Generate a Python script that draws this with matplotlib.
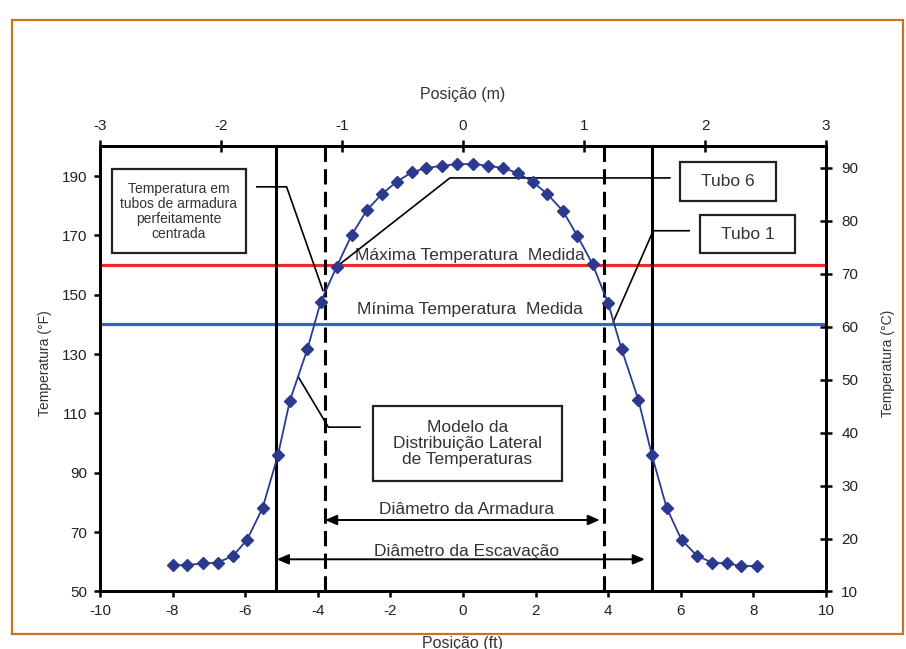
import matplotlib.pyplot as plt
from matplotlib.patches import Rectangle

plt.rcParams['font.family'] = ['Liberation Sans', 'DejaVu Sans']
plt.rcParams['axes.unicode_minus'] = False

# === DATA ===
pos_ft = [-7.99, -7.61, -7.16, -6.76, -6.33, -5.95, -5.52, -5.10, -4.77, -4.29,
          -3.92, -3.48, -3.07, -2.65, -2.24, -1.83, -1.41, -1.02, -0.59, -0.17,
          0.27, 0.70, 1.11, 1.52, 1.94, 2.32, 2.75, 3.15, 3.57, 4.00,
          4.37, 4.83, 5.20, 5.61, 6.02, 6.44, 6.87, 7.26, 7.67, 8.09]
temp_F = [58.9, 58.9, 59.5, 59.7, 62.1, 67.4, 78.2, 95.9, 114.3, 131.6,
          147.6, 159.5, 170.1, 178.5, 183.9, 188.1, 191.3, 192.7, 193.5, 194.0,
          194.1, 193.5, 192.7, 191.0, 187.9, 184.0, 178.3, 169.9, 160.3, 147.1,
          131.6, 114.7, 96.1, 78.2, 67.4, 62.1, 59.7, 59.5, 58.6, 58.6]

excavation_edges_ft = [-5.16, 5.22]   # Diâmetro da Escavação
cage_edges_ft = [-3.80, 3.88]         # Diâmetro da Armadura
max_temp_F = 160
min_temp_F = 140

x_ticks_ft = [-10, -8, -6, -4, -2, 0, 2, 4, 6, 8, 10]
x_ticks_m = [-3, -2, -1, 0, 1, 2, 3]
y_ticks_F = [50, 70, 90, 110, 130, 150, 170, 190]
y_ticks_C = [10, 20, 30, 40, 50, 60, 70, 80, 90]

# === Colours ===
navy = '#2B3A8F'
red = '#EC2B2B'
blue = '#3D5FC0'
txt = '#333333'

fig = plt.figure(figsize=(9.06, 6.49), dpi=100)

# orange frame around the whole figure
fig.patches.append(Rectangle((0.013, 0.023), 0.984, 0.946, transform=fig.transFigure,
                             fill=False, edgecolor='#C8741E', lw=1.6))

ax = fig.add_axes([0.1104, 0.0886, 0.8013, 0.6857])
ax.set_xlim(-10, 10)
ax.set_ylim(50, 200)
ax.set_xticks(x_ticks_ft)
ax.set_yticks(y_ticks_F)

# reference lines
ax.axhline(max_temp_F, color=red, lw=2.3, zorder=2)
ax.axhline(min_temp_F, color=blue, lw=2.3, zorder=2)
for x in excavation_edges_ft:
    ax.axvline(x, color='black', lw=2.2, zorder=3)
for x in cage_edges_ft:
    ax.axvline(x, color='black', lw=2.2, dashes=(5, 2.4), zorder=3)

# temperature profile
ax.plot(pos_ft, temp_F, color=navy, lw=1.3, marker='D', ms=6, zorder=5)

ax.text(0.19, 163.1, 'Máxima Temperatura  Medida', ha='center', va='center',
        fontsize=12.5, color=txt, zorder=4)
ax.text(0.19, 144.9, 'Mínima Temperatura  Medida', ha='center', va='center',
        fontsize=12.5, color=txt, zorder=4)

# diameter arrows
ax.annotate('', xy=(3.77, 74.1), xytext=(-3.80, 74.1),
            arrowprops=dict(arrowstyle='<|-|>,head_length=0.7,head_width=0.3',
                            color='black', lw=1.4, shrinkA=0, shrinkB=0))
ax.text(0.10, 77.7, 'Diâmetro da Armadura', ha='center', va='center',
        fontsize=12.5, color=txt)
ax.annotate('', xy=(5.01, 60.85), xytext=(-5.13, 60.85),
            arrowprops=dict(arrowstyle='<|-|>,head_length=0.7,head_width=0.3',
                            color='black', lw=1.4, shrinkA=0, shrinkB=0))
ax.text(0.10, 63.6, 'Diâmetro da Escavação', ha='center', va='center',
        fontsize=12.5, color=txt)

# annotation boxes
def box(x0, x1, y0, y1, label, fs, ls=1.15):
    ax.add_patch(Rectangle((x0, y0), x1 - x0, y1 - y0, facecolor='white',
                           edgecolor='#222222', lw=1.6, zorder=6))
    ax.text((x0 + x1) / 2, (y0 + y1) / 2, label, ha='center', va='center',
            fontsize=fs, color=txt, linespacing=ls, zorder=7)

box(-9.68, -5.98, 164.0, 192.3,
    'Temperatura em\ntubos de armadura\nperfeitamente\ncentrada', 10, 1.1)
box(5.98, 8.62, 181.6, 194.9, 'Tubo 6', 12.5)
box(6.53, 9.15, 164.0, 176.9, 'Tubo 1', 12.5)
box(-2.48, 2.73, 87.2, 112.5,
    'Modelo da\nDistribuição Lateral\nde Temperaturas', 12.5, 1.1)

# leader lines
lead = dict(color='black', lw=1.2, zorder=4)
ax.plot([-5.68, -4.86, -3.86], [186.4, 186.4, 151.5], **lead)
ax.plot([-3.48, -0.36, 5.70], [159.5, 189.4, 189.4], **lead)
ax.plot([6.23, 5.24, 4.14], [171.6, 171.6, 140.9], **lead)
ax.plot([-2.84, -3.71, -4.54], [105.4, 105.4, 122.4], **lead)

# top axis in metres, right axis in Celsius
ax_top = ax.twiny()
ax_top.set_xlim(-3, 3)
ax_top.set_xticks(x_ticks_m)
ax_top.set_xlabel('Posição (m)', fontsize=11.5, color=txt, labelpad=14)

ax_r = ax.twinx()
ax_r.set_ylim(10, 94)
ax_r.set_yticks(y_ticks_C)

for a in (ax, ax_top, ax_r):
    for s in a.spines.values():
        s.set_linewidth(1.8)
ax.tick_params(axis='both', direction='out', length=4, width=1.8,
               labelsize=11, labelcolor='#222222', pad=5)
ax_top.tick_params(axis='x', direction='inout', length=8, width=1.8,
                   labelsize=11, labelcolor='#222222', pad=6)
ax_r.tick_params(axis='y', direction='inout', length=8, width=1.8,
                 labelsize=11, labelcolor='#222222', pad=7)

fig.text(0.511, 0.009, 'Posição (ft)', ha='center', va='center',
         fontsize=11.5, color=txt)
fig.text(0.050, 0.44, 'Temperatura (°F)', ha='center', va='center',
         rotation=90, fontsize=10, color=txt)
fig.text(0.980, 0.44, 'Temperatura (°C)', ha='center', va='center',
         rotation=90, fontsize=10, color=txt)

fig.savefig('out.png', dpi=100)
